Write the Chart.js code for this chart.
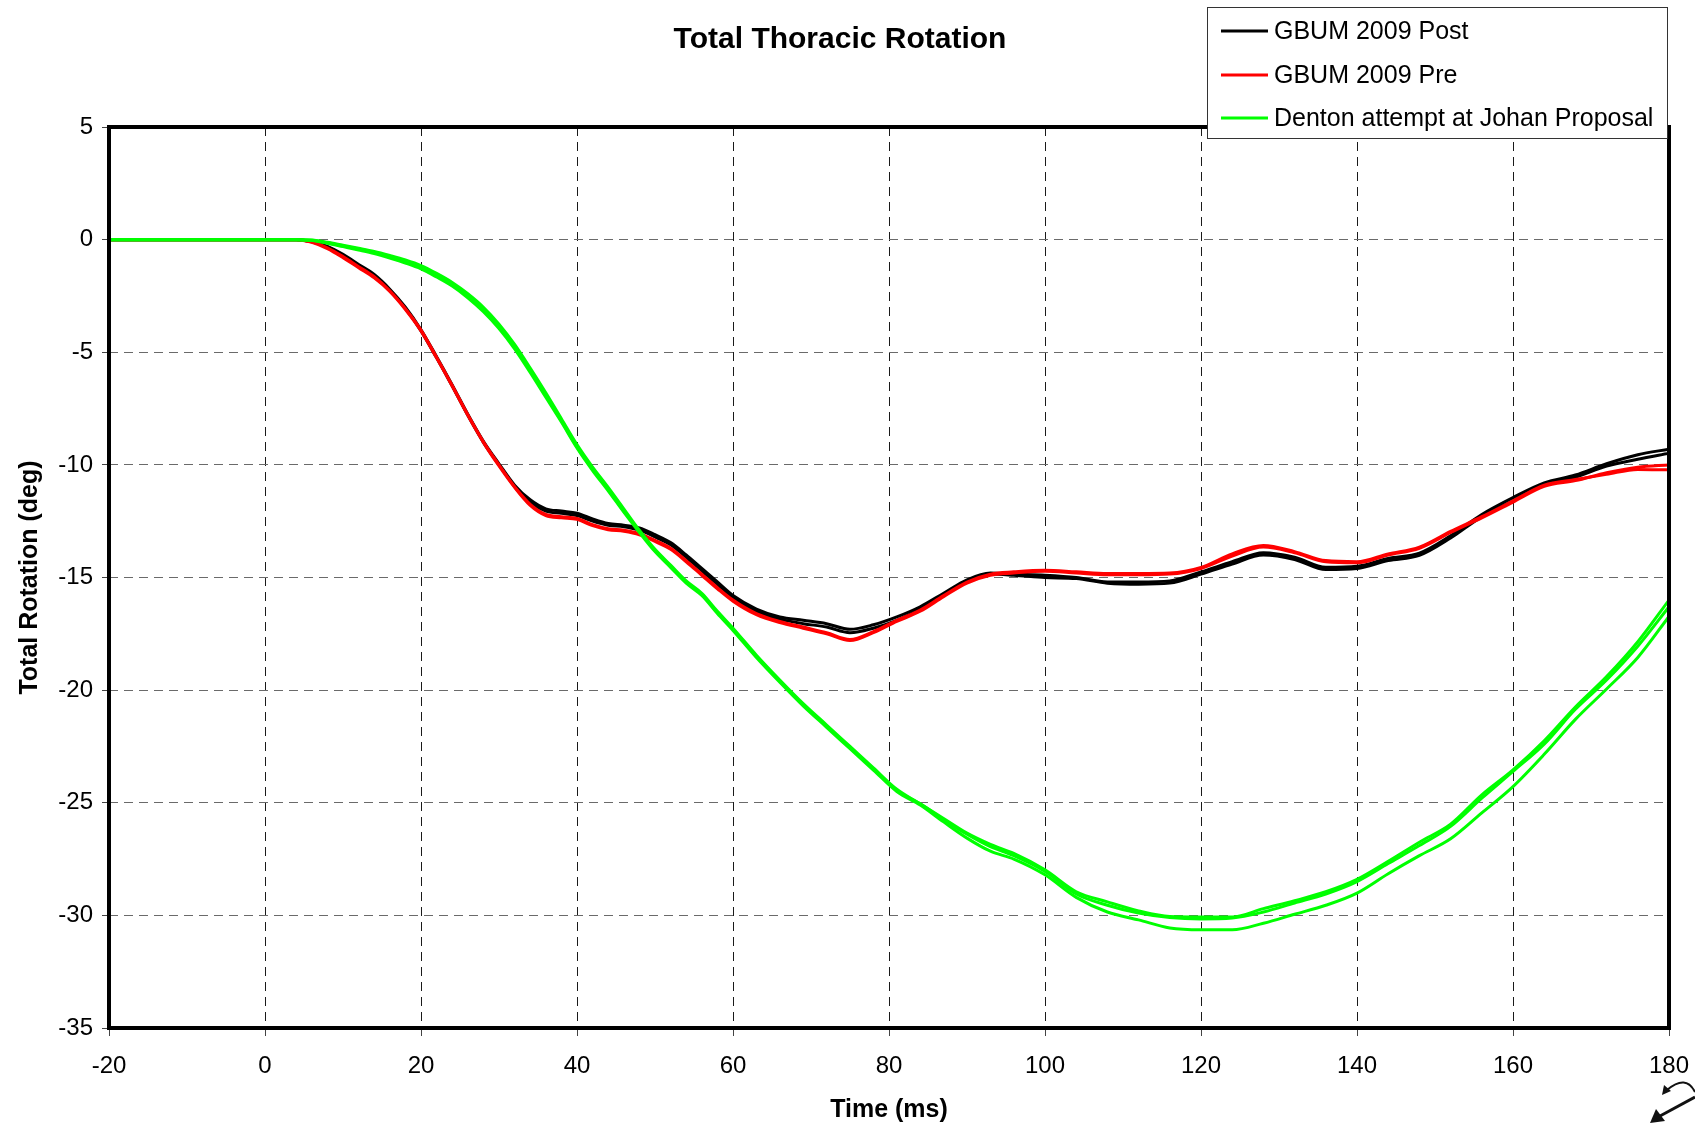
<!DOCTYPE html>
<html>
<head>
<meta charset="utf-8">
<title>Total Thoracic Rotation</title>
<script src="https://cdn.jsdelivr.net/npm/chart.js"></script>
<style>
    html, body { margin: 0; padding: 0; background: #fff; }
    #wrap { width: 1695px; height: 1123px; }
</style>
</head>
<body>
<div id="wrap"><canvas id="chart1" width="1695" height="1123"></canvas></div>
<script>
var times = [-20, 0, 4, 6, 8, 10, 12, 14, 16, 18,
    20, 22, 24, 26, 28, 30, 32, 34, 36, 38,
    40, 42, 44, 46, 48, 50, 52, 54, 56, 58,
    60, 63, 66, 69, 72, 75, 78, 81, 84, 87,
    90, 93, 96, 100, 104, 108, 112, 116, 120, 124,
    128, 132, 136, 140, 144, 148, 152, 156, 160, 164,
    168, 172, 176, 180];

var postA = [0, 0, 0, -0.08, -0.3, -0.65, -1.1, -1.55, -2.2, -3.0,
    -4.0, -5.2, -6.45, -7.75, -8.95, -9.95, -10.9, -11.55, -11.95, -12.05,
    -12.15, -12.4, -12.6, -12.68, -12.8, -13.1, -13.45, -14.0, -14.6, -15.2,
    -15.8, -16.4, -16.75, -16.9, -17.05, -17.3, -17.1, -16.75, -16.3, -15.7,
    -15.1, -14.8, -14.85, -14.9, -15.0, -15.2, -15.2, -15.15, -14.75, -14.3,
    -13.9, -14.1, -14.55, -14.5, -14.15, -13.92, -13.15, -12.2, -11.45, -10.8,
    -10.45, -9.95, -9.55, -9.3];
var postB = [0, 0, 0, -0.1, -0.32, -0.7, -1.15, -1.6, -2.25, -3.05,
    -4.05, -5.25, -6.5, -7.8, -9.0, -10.0, -10.95, -11.65, -12.05, -12.15,
    -12.25, -12.5, -12.68, -12.75, -12.9, -13.2, -13.55, -14.1, -14.7, -15.3,
    -15.9, -16.5, -16.85, -17.05, -17.2, -17.45, -17.25, -16.9, -16.4, -15.8,
    -15.2, -14.85, -14.9, -15.0, -15.05, -15.25, -15.3, -15.25, -14.85, -14.4,
    -14.0, -14.2, -14.65, -14.6, -14.25, -14.02, -13.25, -12.3, -11.6, -10.9,
    -10.55, -10.05, -9.75, -9.48];
var preA = [0, 0, 0, -0.12, -0.4, -0.8, -1.25, -1.7, -2.3, -3.1,
    -4.05, -5.25, -6.5, -7.8, -9.0, -10.05, -11.0, -11.8, -12.25, -12.35,
    -12.42, -12.7, -12.88, -12.95, -13.1, -13.4, -13.75, -14.3, -14.9, -15.5,
    -16.05, -16.65, -17.0, -17.25, -17.5, -17.8, -17.45, -16.95, -16.5, -15.85,
    -15.25, -14.9, -14.8, -14.72, -14.8, -14.88, -14.88, -14.85, -14.6, -14.05,
    -13.65, -13.9, -14.3, -14.35, -14.0, -13.7, -13.0, -12.35, -11.65, -10.95,
    -10.7, -10.35, -10.1, -10.0];
var preB = [0, 0, 0, -0.1, -0.36, -0.75, -1.2, -1.65, -2.27, -3.07,
    -4.02, -5.22, -6.47, -7.77, -8.97, -10.0, -10.97, -11.75, -12.2, -12.3,
    -12.38, -12.65, -12.83, -12.9, -13.05, -13.35, -13.7, -14.25, -14.85, -15.45,
    -16.0, -16.6, -16.95, -17.2, -17.45, -17.75, -17.4, -16.9, -16.45, -15.8,
    -15.2, -14.85, -14.75, -14.68, -14.75, -14.82, -14.82, -14.8, -14.55, -13.95,
    -13.58, -13.85, -14.25, -14.3, -13.95, -13.65, -12.95, -12.3, -11.6, -10.9,
    -10.65, -10.42, -10.2, -10.22];
var dentonA = [0, 0, 0, -0.02, -0.12, -0.25, -0.38, -0.52, -0.7, -0.9,
    -1.15, -1.5, -1.9, -2.4, -3.0, -3.75, -4.65, -5.7, -6.8, -7.95,
    -9.1, -10.1, -11.0, -11.95, -12.9, -13.75, -14.45, -15.15, -15.7, -16.5,
    -17.25, -18.45, -19.55, -20.6, -21.55, -22.5, -23.45, -24.4, -25.05, -25.7,
    -26.35, -26.85, -27.25, -27.98, -28.95, -29.4, -29.8, -30.05, -30.07, -30.07,
    -29.7, -29.35, -28.95, -28.4, -27.6, -26.75, -25.95, -24.65, -23.54, -22.25,
    -20.75, -19.4, -17.85, -16.0];
var dentonB = [0, 0, 0, -0.03, -0.14, -0.28, -0.42, -0.57, -0.76, -0.97,
    -1.22, -1.58, -1.98, -2.5, -3.1, -3.85, -4.75, -5.8, -6.9, -8.05,
    -9.2, -10.2, -11.1, -12.05, -12.95, -13.8, -14.5, -15.2, -15.75, -16.55,
    -17.3, -18.5, -19.6, -20.65, -21.6, -22.55, -23.5, -24.45, -25.05, -25.75,
    -26.4, -26.95, -27.35, -28.05, -29.05, -29.55, -29.9, -30.1, -30.16, -30.12,
    -29.85, -29.45, -29.05, -28.5, -27.7, -26.9, -26.05, -24.8, -23.61, -22.4,
    -20.85, -19.55, -18.05, -16.3];
var dentonC = [0, 0, 0, -0.04, -0.16, -0.31, -0.46, -0.62, -0.82, -1.04,
    -1.3, -1.66, -2.06, -2.58, -3.2, -3.95, -4.85, -5.9, -7.0, -8.1,
    -9.25, -10.25, -11.15, -12.1, -13.0, -13.85, -14.55, -15.25, -15.8, -16.6,
    -17.35, -18.55, -19.65, -20.7, -21.65, -22.6, -23.55, -24.5, -25.1, -25.85,
    -26.57, -27.15, -27.5, -28.2, -29.2, -29.85, -30.2, -30.56, -30.64, -30.64,
    -30.35, -29.95, -29.55, -29.01, -28.15, -27.35, -26.6, -25.45, -24.28, -22.85,
    -21.3, -19.95, -18.55, -16.73];

var seriesNames = ['GBUM 2009 Post', 'GBUM 2009 Pre', 'Denton attempt at Johan Proposal'];
var seriesColors = ['#000000', '#ff0000', '#00ff00'];
var xTicks = [-20, 0, 20, 40, 60, 80, 100, 120, 140, 160, 180];
var yTicks = [5, 0, -5, -10, -15, -20, -25, -30, -35];

var FONT = "'Liberation Sans', Arial, Helvetica, sans-serif";

function pts(vals) {
    return times.map(function(t, i) { return { x: t, y: vals[i] }; });
}
function line(group, vals, order) {
    return {
        label: seriesNames[group],
        data: pts(vals),
        borderColor: seriesColors[group],
        backgroundColor: seriesColors[group],
        borderWidth: 3,
        pointRadius: 0,
        fill: false,
        cubicInterpolationMode: 'monotone',
        order: order
    };
}

// frame, title, legend box and the little rotate glyph
var decor = {
    id: 'decor',
    afterDatasetsDraw: function(chart) {
        var ctx = chart.ctx, a = chart.chartArea;
        ctx.save();
        ctx.strokeStyle = '#000';
        ctx.lineWidth = 4;
        ctx.strokeRect(a.left, a.top, a.right - a.left, a.bottom - a.top);
        ctx.restore();
    },
    afterDraw: function(chart) {
        var ctx = chart.ctx;
        ctx.save();
        ctx.fillStyle = '#000';
        ctx.font = 'bold 30px ' + FONT;
        ctx.textAlign = 'center';
        ctx.textBaseline = 'middle';
        ctx.fillText('Total Thoracic Rotation', 840, 40);

        // legend
        ctx.fillStyle = '#fff';
        ctx.fillRect(1207, 7, 460, 131);
        ctx.strokeStyle = '#333';
        ctx.lineWidth = 1;
        ctx.strokeRect(1207.5, 7.5, 460, 131);
        var rows = [31, 75, 118];
        ctx.font = '25px ' + FONT;
        ctx.textAlign = 'left';
        for (var i = 0; i < seriesNames.length; i++) {
            ctx.strokeStyle = seriesColors[i];
            ctx.lineWidth = 2.8;
            ctx.beginPath();
            ctx.moveTo(1221, rows[i]);
            ctx.lineTo(1268, rows[i]);
            ctx.stroke();
            ctx.fillStyle = '#000';
            ctx.fillText(seriesNames[i], 1274, rows[i] + 1);
        }

        // rotate cursor in the corner
        ctx.strokeStyle = '#111';
        ctx.fillStyle = '#111';
        ctx.lineWidth = 2;
        ctx.beginPath();
        ctx.moveTo(1667, 1090);
        ctx.quadraticCurveTo(1686, 1074, 1695, 1092);
        ctx.stroke();
        ctx.beginPath();
        ctx.moveTo(1662, 1095);
        ctx.lineTo(1664, 1085);
        ctx.lineTo(1671, 1091);
        ctx.closePath();
        ctx.fill();
        ctx.lineWidth = 3;
        ctx.beginPath();
        ctx.moveTo(1695, 1097);
        ctx.lineTo(1660, 1116);
        ctx.stroke();
        ctx.beginPath();
        ctx.moveTo(1650, 1123);
        ctx.lineTo(1656, 1109);
        ctx.lineTo(1665, 1121);
        ctx.closePath();
        ctx.fill();
        ctx.restore();
    }
};

var ctx = document.getElementById('chart1');
var myChart = new Chart(ctx, {
    type: 'line',
    data: {
        datasets: [
            line(2, dentonA, 0),
            line(2, dentonB, 0),
            line(2, dentonC, 0),
            line(1, preA, 1),
            line(1, preB, 1),
            line(0, postA, 2),
            line(0, postB, 2)
        ]
    },
    plugins: [decor],
    options: {
        responsive: false,
        animation: false,
        events: [],
        layout: {
            padding: { top: 127, right: 26, bottom: 0, left: 0 }
        },
        plugins: {
            legend: { display: false },
            title: { display: false },
            tooltip: { enabled: false }
        },
        scales: {
            x: {
                type: 'linear',
                min: -20,
                max: 180,
                afterFit: function(scale) {
                    scale.height = 95;
                    scale.paddingLeft = 0;
                    scale.paddingRight = 0;
                },
                afterBuildTicks: function(scale) {
                    scale.ticks = xTicks.map(function(v) { return { value: v }; });
                },
                ticks: {
                    color: '#000',
                    padding: 16,
                    maxRotation: 0,
                    autoSkip: false,
                    font: { family: FONT, size: 24 }
                },
                grid: {
                    color: '#1a1a1a',
                    lineWidth: 1,
                    drawTicks: true,
                    tickLength: 8,
                    tickColor: '#444',
                    tickWidth: 1,
                    tickBorderDash: []
                },
                border: { display: false, dash: [9, 6] },
                title: {
                    display: true,
                    text: 'Time (ms)',
                    color: '#000',
                    font: { family: FONT, size: 25, weight: 'bold', lineHeight: 1.0 },
                    padding: { top: 0, bottom: 0 }
                }
            },
            y: {
                type: 'linear',
                min: -35,
                max: 5,
                afterFit: function(scale) {
                    scale.width = 109;
                    scale.paddingTop = 0;
                    scale.paddingBottom = 0;
                },
                afterBuildTicks: function(scale) {
                    scale.ticks = yTicks.map(function(v) { return { value: v }; });
                },
                ticks: {
                    color: '#000',
                    padding: 9,
                    font: { family: FONT, size: 24 }
                },
                grid: {
                    color: '#6a6a6a',
                    lineWidth: 1,
                    drawTicks: true,
                    tickLength: 7,
                    tickColor: '#444',
                    tickWidth: 1,
                    tickBorderDash: []
                },
                border: { display: false, dash: [9, 6] },
                title: {
                    display: true,
                    text: 'Total Rotation (deg)',
                    color: '#000',
                    font: { family: FONT, size: 25, weight: 'bold', lineHeight: 1.2 },
                    padding: { top: 15, bottom: 0 }
                }
            }
        }
    }
});
</script>
</body>
</html>
